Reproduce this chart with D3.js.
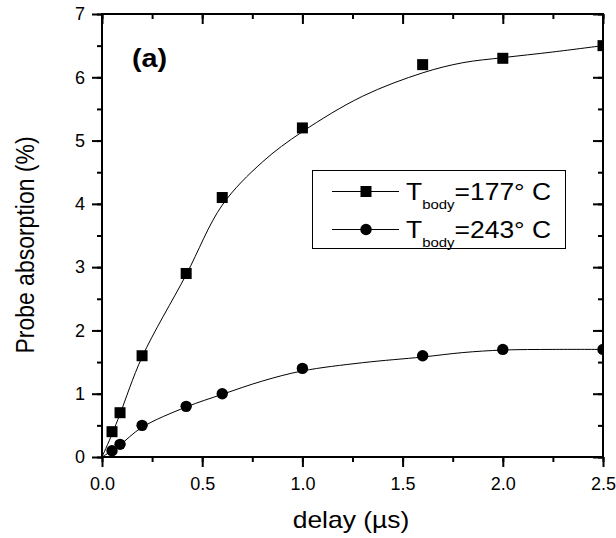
<!DOCTYPE html>
<html>
<head>
<meta charset="utf-8">
<script src="https://cdn.jsdelivr.net/npm/d3@7"></script>
<style>
  html, body { margin: 0; padding: 0; background: #fff; }
  svg { display: block; }
  svg text { font-family: "Liberation Sans", Arial, sans-serif; fill: #000; }
</style>
</head>
<body>
<svg id="chart" width="616" height="538"></svg>
<script>
// Delay values (µs) and probe absorption (%) for both body temperatures
const delays = [0.05, 0.09, 0.2, 0.42, 0.6, 1.0, 1.6, 2.0, 2.5];
const absorption177 = [0.4, 0.7, 1.6, 2.9, 4.1, 5.2, 6.2, 6.3, 6.5];
const absorption243 = [0.1, 0.2, 0.5, 0.8, 1.0, 1.4, 1.6, 1.7, 1.7];

// Smooth fitted curves, sampled at these delays
const fitDelays = [0, 0.05, 0.09, 0.2, 0.42, 0.6, 0.8, 1.0, 1.3, 1.6, 1.8, 2.0, 2.25, 2.5];
const fit177 = [0, 0.36, 0.68, 1.58, 2.88, 3.98, 4.66, 5.14, 5.7, 6.07, 6.23, 6.31, 6.4, 6.5];
const fit243 = [0, 0.1, 0.19, 0.47, 0.79, 0.99, 1.2, 1.36, 1.49, 1.58, 1.65, 1.69, 1.7, 1.7];

const xTicks = [0.0, 0.5, 1.0, 1.5, 2.0, 2.5];
const yTicks = [0, 1, 2, 3, 4, 5, 6, 7];
const legendLabels = ["=177° C", "=243° C"];

const svg = d3.select("#chart");
const plot = { left: 102, top: 14, right: 603, bottom: 457 };
const stretch = 1.15; // labels are set slightly wide

const x = d3.scaleLinear().domain([0, 2.5]).range([plot.left, plot.right]);
const y = d3.scaleLinear().domain([0, 7]).range([plot.bottom, plot.top]);

const minorX = d3.range(0, 2.5001, 0.25);
const minorY = d3.range(0, 7.0001, 0.5);

// Clip marks to the frame
svg.append("defs").append("clipPath").attr("id", "plotClip")
  .append("rect")
  .attr("x", plot.left).attr("y", plot.top)
  .attr("width", plot.right - plot.left).attr("height", plot.bottom - plot.top);

function styleAxis(g) {
  g.attr("font-family", null);
  g.select(".domain").remove();
  g.selectAll("line").attr("stroke", "#000").attr("stroke-width", 2);
  g.selectAll("text").attr("fill", "#000").attr("font-size", 18);
}

const fmtX = d3.format(".1f");

// Minor ticks: outward on bottom/left, inward on top/right
svg.append("g").attr("transform", `translate(0,${plot.bottom})`)
  .call(d3.axisBottom(x).tickValues(minorX).tickSize(5).tickFormat(""))
  .call(styleAxis);
svg.append("g").attr("transform", `translate(0,${plot.top})`)
  .call(d3.axisBottom(x).tickValues(minorX).tickSize(5).tickFormat(""))
  .call(styleAxis);
svg.append("g").attr("transform", `translate(${plot.left},0)`)
  .call(d3.axisLeft(y).tickValues(minorY).tickSize(5).tickFormat(""))
  .call(styleAxis);
svg.append("g").attr("transform", `translate(${plot.right},0)`)
  .call(d3.axisLeft(y).tickValues(minorY).tickSize(5).tickFormat(""))
  .call(styleAxis);

// Major ticks with labels
svg.append("g").attr("transform", `translate(0,${plot.bottom})`)
  .call(d3.axisBottom(x).tickValues(xTicks).tickSize(10).tickPadding(10).tickFormat(fmtX))
  .call(styleAxis);
svg.append("g").attr("transform", `translate(0,${plot.top})`)
  .call(d3.axisBottom(x).tickValues(xTicks).tickSize(10).tickFormat(""))
  .call(styleAxis);
svg.append("g").attr("transform", `translate(${plot.left},0)`)
  .call(d3.axisLeft(y).tickValues(yTicks).tickSize(10).tickPadding(7).tickFormat(d3.format("d")))
  .call(styleAxis);
svg.append("g").attr("transform", `translate(${plot.right},0)`)
  .call(d3.axisLeft(y).tickValues(yTicks).tickSize(10).tickFormat(""))
  .call(styleAxis);

// Frame
svg.append("rect")
  .attr("x", plot.left).attr("y", plot.top)
  .attr("width", plot.right - plot.left).attr("height", plot.bottom - plot.top)
  .attr("fill", "none").attr("stroke", "#000").attr("stroke-width", 2);

// Fitted curves
const line = d3.line().curve(d3.curveCatmullRom.alpha(0.5))
  .x(d => x(d[0])).y(d => y(d[1]));

const marks = svg.append("g").attr("clip-path", "url(#plotClip)");

[fit177, fit243].forEach(fit => {
  marks.append("path")
    .datum(fitDelays.map((d, i) => [d, fit[i]]))
    .attr("d", line)
    .attr("fill", "none").attr("stroke", "#000").attr("stroke-width", 1);
});

// Data markers
const sq = 11;
marks.selectAll("rect.s177")
  .data(delays.map((d, i) => [d, absorption177[i]]))
  .join("rect").attr("class", "s177")
  .attr("x", d => x(d[0]) - sq / 2).attr("y", d => y(d[1]) - sq / 2)
  .attr("width", sq).attr("height", sq).attr("fill", "#000");

marks.selectAll("circle.s243")
  .data(delays.map((d, i) => [d, absorption243[i]]))
  .join("circle").attr("class", "s243")
  .attr("cx", d => x(d[0])).attr("cy", d => y(d[1]))
  .attr("r", 5.7).attr("fill", "#000");

// Panel label
svg.append("text")
  .attr("transform", `translate(132,67) scale(${stretch},1)`)
  .attr("font-size", 25).attr("font-weight", "bold").text("(a)");

// Axis titles
svg.append("text")
  .attr("transform", `translate(351,528) scale(${stretch},1)`)
  .attr("text-anchor", "middle").attr("font-size", 23).text("delay (µs)");
svg.append("text")
  .attr("transform", `translate(34,245) scale(${stretch},1) rotate(-90)`)
  .attr("text-anchor", "middle").attr("font-size", 23).text("Probe absorption (%)");

// Legend
const lg = svg.append("g");
lg.append("rect").attr("x", 312.5).attr("y", 170.5).attr("width", 253).attr("height", 78)
  .attr("fill", "#fff").attr("stroke", "#000").attr("stroke-width", 1);

const rows = [191.5, 229.5];
rows.forEach((ry, i) => {
  lg.append("line").attr("x1", 332).attr("x2", 399).attr("y1", ry).attr("y2", ry)
    .attr("stroke", "#000").attr("stroke-width", 1);
  if (i === 0) {
    lg.append("rect").attr("x", 366 - sq / 2).attr("y", ry - sq / 2)
      .attr("width", sq).attr("height", sq).attr("fill", "#000");
  } else {
    lg.append("circle").attr("cx", 366).attr("cy", ry).attr("r", 5.7).attr("fill", "#000");
  }
  const t = lg.append("text")
    .attr("transform", `translate(406,${ry + 8.7}) scale(${stretch},1)`)
    .attr("font-size", 23);
  t.append("tspan").text("T");
  t.append("tspan").attr("font-size", 13).attr("dy", 8.4).text("body");
  t.append("tspan").attr("dy", -8.4).text(legendLabels[i]);
});
</script>
</body>
</html>
